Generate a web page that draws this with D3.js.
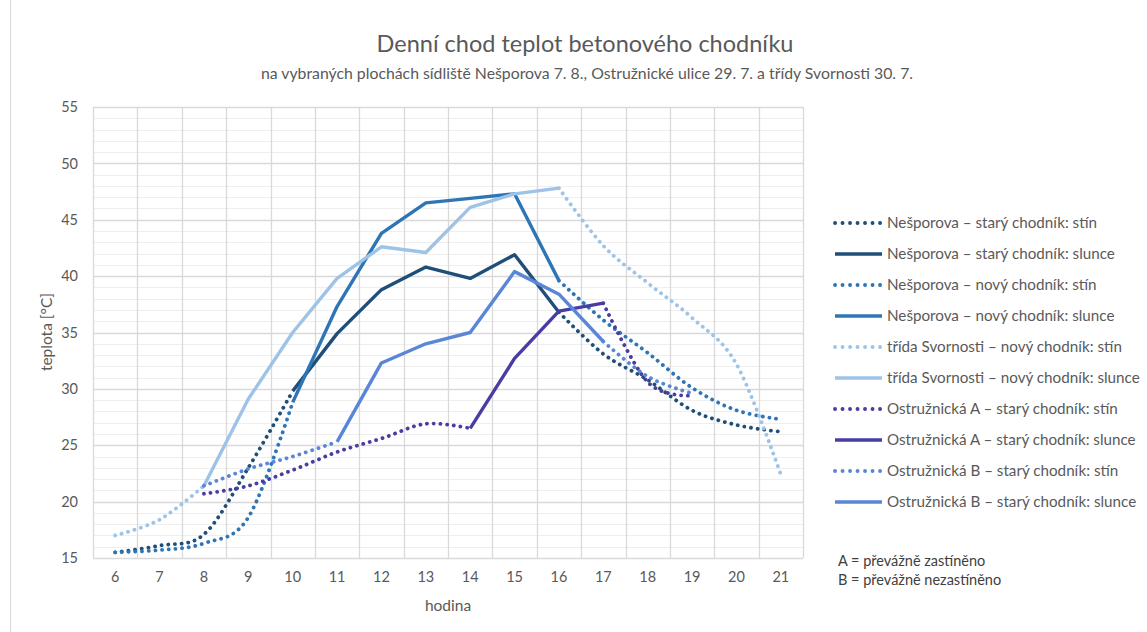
<!DOCTYPE html>
<html lang="cs">
<head>
<meta charset="utf-8">
<script src="https://cdn.jsdelivr.net/npm/d3@7"></script>
<style>
  html, body { margin: 0; padding: 0; background: #fff; }
  svg { display: block; font-family: Lato, "Open Sans", sans-serif; }
</style>
</head>
<body>
<svg id="chart" width="1147" height="632"></svg>
<script>
// Hodiny měření (kategorie osy x)
const hours = [6, 7, 8, 9, 10, 11, 12, 13, 14, 15, 16, 17, 18, 19, 20, 21];
const yTicks = [15, 20, 25, 30, 35, 40, 45, 50, 55];

// Teploty povrchu [°C]; null = bez měření v dané řadě
const nespStaryStin   = [15.5, 16.1, 17.1, 23.0, 29.8, null, null, null, null, null, 36.8, 33.1, 30.8, 28.1, 26.8, 26.2];
const nespStarySlunce = [null, null, null, null, 29.8, 34.9, 38.8, 40.8, 39.8, 41.9, 36.8, null, null, null, null, null];
const nespNovyStin    = [15.5, 15.7, 16.3, 18.6, 28.8, null, null, null, null, null, 39.6, 36.1, 33.2, 30.1, 28.1, 27.3];
const nespNovySlunce  = [null, null, null, null, 28.8, 37.3, 43.8, 46.5, 46.9, 47.3, 39.6, null, null, null, null, null];
const svorStin        = [17.0, 18.4, 21.4, null, null, null, null, null, null, null, 47.8, 42.7, 39.4, 36.3, 32.2, 22.4];
const svorSlunce      = [null, null, 21.4, 29.1, 35.0, 39.8, 42.6, 42.1, 46.1, 47.3, 47.8, null, null, null, null, null];
const ostrAStin       = [null, null, 20.7, 21.4, 22.8, 24.4, 25.6, 26.9, 26.5, null, null, 37.6, 30.6, 29.4, null, null];
const ostrASlunce     = [null, null, null, null, null, null, null, null, 26.5, 32.7, 36.9, 37.6, null, null, null, null];
const ostrBStin       = [null, null, 21.4, 22.9, 24.0, 25.3, null, null, null, null, null, 34.2, 31.1, 29.6, null, null];
const ostrBSlunce     = [null, null, null, null, null, 25.3, 32.3, 34.0, 35.0, 40.4, 38.4, 34.2, null, null, null, null];

const seriesNames = [
  "Nešporova – starý chodník: stín",
  "Nešporova – starý chodník: slunce",
  "Nešporova – nový chodník: stín",
  "Nešporova – nový chodník: slunce",
  "třída Svornosti – nový chodník: stín",
  "třída Svornosti – nový chodník: slunce",
  "Ostružnická A – starý chodník: stín",
  "Ostružnická A – starý chodník: slunce",
  "Ostružnická B – starý chodník: stín",
  "Ostružnická B – starý chodník: slunce"
];
const seriesValues = [nespStaryStin, nespStarySlunce, nespNovyStin, nespNovySlunce,
  svorStin, svorSlunce, ostrAStin, ostrASlunce, ostrBStin, ostrBSlunce];
const seriesColors = ["#1f4e79", "#1f4e79", "#2e75b6", "#2e75b6", "#9dc3e6", "#9dc3e6",
  "#473da3", "#473da3", "#5986d6", "#5986d6"];
const seriesDotted = [true, false, true, false, true, false, true, false, true, false];

const series = seriesNames.map((name, i) => ({
  name, values: seriesValues[i], color: seriesColors[i], dotted: seriesDotted[i]
}));

const svg = d3.select("#chart");
const textColor = "#595959";

// plocha grafu
const plot = { left: 93, right: 803, top: 107, bottom: 558 };
const x = d3.scaleBand().domain(hours).range([plot.left, plot.right]);
const y = d3.scaleLinear().domain([15, 55]).range([plot.bottom, plot.top]);
const cx = h => x(h) + x.bandwidth() / 2;

// levý okraj rámečku grafu
svg.append("line").attr("x1", 10.5).attr("x2", 10.5).attr("y1", 0).attr("y2", 632)
  .attr("stroke", "#d9d9d9").attr("stroke-width", 1);

// vedlejší mřížka po 1 °C
const grid = svg.append("g");
grid.selectAll("line.minor").data(d3.range(16, 55).filter(v => v % 5 !== 0)).join("line")
  .attr("class", "minor")
  .attr("x1", plot.left).attr("x2", plot.right)
  .attr("y1", d => Math.round(y(d)) + 0.5).attr("y2", d => Math.round(y(d)) + 0.5)
  .attr("stroke", "#efefef").attr("stroke-width", 1);
// hlavní mřížka po 5 °C
grid.selectAll("line.major").data(yTicks).join("line")
  .attr("class", "major")
  .attr("x1", plot.left).attr("x2", plot.right)
  .attr("y1", d => Math.round(y(d)) + 0.5).attr("y2", d => Math.round(y(d)) + 0.5)
  .attr("stroke", "#d9d9d9").attr("stroke-width", 1.3);
// svislé čáry mezi kategoriemi
grid.selectAll("line.vert").data(hours.concat([null])).join("line")
  .attr("class", "vert")
  .attr("x1", (d, i) => Math.round(plot.left + i * x.bandwidth()) + 0.5)
  .attr("x2", (d, i) => Math.round(plot.left + i * x.bandwidth()) + 0.5)
  .attr("y1", plot.top).attr("y2", plot.bottom)
  .attr("stroke", "#d9d9d9").attr("stroke-width", 1.3);

// osy
const yAxis = svg.append("g")
  .attr("transform", `translate(${plot.left},0)`)
  .call(d3.axisLeft(y).tickValues(yTicks).tickSize(0).tickPadding(15));
yAxis.select(".domain").remove();
yAxis.selectAll("text").attr("fill", textColor).style("font-size", "14.5px")
  .style("font-family", "Lato, 'Open Sans', sans-serif");

const xAxis = svg.append("g")
  .attr("transform", `translate(0,${plot.bottom})`)
  .call(d3.axisBottom(x).tickSize(0).tickPadding(14));
xAxis.select(".domain").remove();
xAxis.selectAll("text").attr("fill", textColor).style("font-size", "14.5px")
  .style("font-family", "Lato, 'Open Sans', sans-serif");

// čáry řad
const lineSmooth = d3.line()
  .defined(d => d.v !== null)
  .x(d => cx(d.h)).y(d => y(d.v))
  .curve(d3.curveCatmullRom.alpha(0));
const lineStraight = d3.line()
  .defined(d => d.v !== null)
  .x(d => cx(d.h)).y(d => y(d.v));

const lines = svg.append("g").attr("fill", "none");
series.forEach(s => {
  const pts = hours.map((h, i) => ({ h, v: s.values[i] }));
  const p = lines.append("path")
    .attr("d", s.dotted ? lineSmooth(pts) : lineStraight(pts))
    .attr("stroke", s.color)
    .attr("stroke-linejoin", "round");
  if (s.dotted) {
    p.attr("stroke-width", 3.8).attr("stroke-linecap", "round").attr("stroke-dasharray", "0.1 6.6");
  } else {
    p.attr("stroke-width", 3.4).attr("stroke-linecap", "butt");
  }
});

// nadpisy
svg.append("text").attr("x", 585).attr("y", 52).attr("text-anchor", "middle")
  .attr("fill", textColor).style("font-size", "23.5px")
  .text("Denní chod teplot betonového chodníku");
svg.append("text").attr("x", 587).attr("y", 79).attr("text-anchor", "middle")
  .attr("fill", textColor).style("font-size", "15.8px")
  .text("na vybraných plochách sídliště Nešporova 7. 8., Ostružnické ulice 29. 7. a třídy Svornosti 30. 7.");

// popisy os
svg.append("text").attr("transform", "translate(52,332) rotate(-90)").attr("text-anchor", "middle")
  .attr("fill", textColor).style("font-size", "15.5px").text("teplota [°C]");
svg.append("text").attr("x", 448).attr("y", 611).attr("text-anchor", "middle")
  .attr("fill", textColor).style("font-size", "15.5px").text("hodina");

// legenda
const legend = svg.append("g").attr("transform", "translate(833,223)");
const rows = legend.selectAll("g").data(series).join("g")
  .attr("transform", (d, i) => `translate(0,${i * 31})`);
rows.append("line").attr("x1", 2).attr("x2", 49).attr("y1", 0).attr("y2", 0)
  .attr("stroke", d => d.color).attr("stroke-width", d => d.dotted ? 3.8 : 3.4)
  .attr("stroke-linecap", d => d.dotted ? "round" : "butt")
  .attr("stroke-dasharray", d => d.dotted ? "0.1 7.4" : null);
rows.append("text").attr("x", 54).attr("y", 0).attr("dy", "0.35em")
  .attr("fill", textColor).style("font-size", "15.2px").text(d => d.name);

// vysvětlivky
svg.append("text").attr("x", 838).attr("y", 566).attr("fill", "#404040")
  .style("font-size", "14.5px").text("A = převážně zastíněno");
svg.append("text").attr("x", 838).attr("y", 585).attr("fill", "#404040")
  .style("font-size", "14.5px").text("B = převážně nezastíněno");
</script>
</body>
</html>
